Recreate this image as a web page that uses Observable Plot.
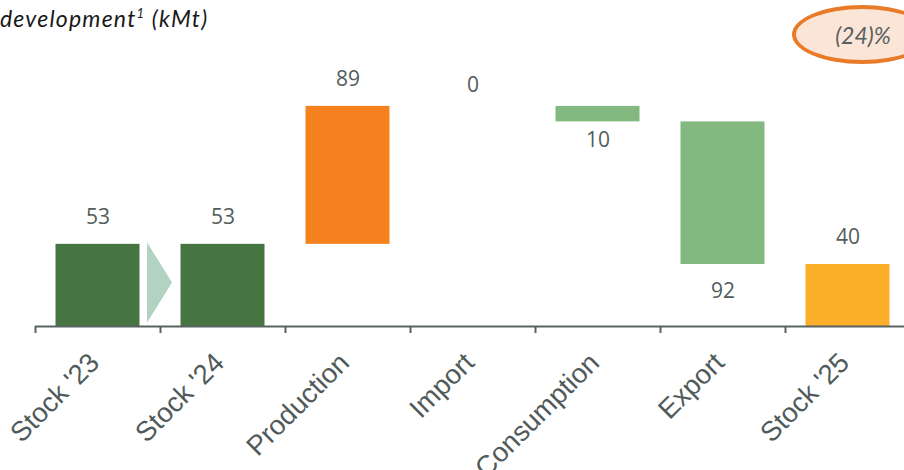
<!DOCTYPE html>
<html>
<head>
<meta charset="utf-8">
<script src="https://cdn.jsdelivr.net/npm/d3@7"></script>
<script src="https://cdn.jsdelivr.net/npm/@observablehq/plot@0.6"></script>
<style>
  html, body { margin: 0; padding: 0; background: #fff; }
  #wrap { position: relative; width: 904px; height: 470px; overflow: hidden; }
  #title { position: absolute; left: 0; top: -1px; font-family: Lato, "Open Sans", sans-serif; font-style: italic; font-weight: 400; font-size: 23px; letter-spacing: 1.2px; line-height: 28px; color: #1a1a1a; white-space: nowrap; }
  #badge { position: absolute; left: 792px; top: 5px; width: 140px; height: 59px; box-sizing: border-box; border: 4px solid #E97A28; border-radius: 50%; background: #FBE5D7; }
  #badge span { position: absolute; left: 0; width: 140px; top: 12px; text-align: center; font-family: Lato, "Open Sans", sans-serif; font-style: italic; font-size: 23px; line-height: 28px; color: #56605F; padding-right: 6px; box-sizing: border-box; }
</style>
</head>
<body>
<div id="wrap">
  <div id="chart"></div>
  <div id="title">development<sup style="font-size:13px;vertical-align:9px">1</sup> (kMt)</div>
  <div id="badge"><span>(24)%</span></div>
</div>
<script>
const categories = ["Stock '23", "Stock '24", "Production", "Import", "Consumption", "Export", "Stock '25"];
const values = [53, 53, 89, 0, -10, -92, 40];
const kinds = ["total", "total", "delta", "delta", "delta", "delta", "total"];
const colors = ["#467541", "#467541", "#F5821F", "#84B881", "#84B881", "#84B881", "#FBAE28"];
const yDomain = [0, 150];

// build waterfall rows
let running = 0;
const rows = categories.map((c, i) => {
  let y1, y2;
  if (kinds[i] === "total") { y1 = 0; y2 = values[i]; running = values[i]; }
  else { y1 = running; y2 = running + values[i]; running = y2; }
  return {i, name: c, y1, y2, top: Math.max(y1, y2), bottom: Math.min(y1, y2), label: String(Math.abs(values[i])), color: colors[i]};
});

const half = 0.336; // half bar width in category units
// chevron between the two opening stocks
const s0 = rows[0];
const arrow = [
  {x: s0.i + half + 0.06, y1: s0.y2 * 0.04, y2: s0.y2 * 1.02},
  {x: s0.i + half + 0.26, y1: s0.y2 * 0.53, y2: s0.y2 * 0.53}
];

const labelFont = {fontFamily: "'Open Sans', sans-serif", fontSize: 21, fill: "#525C5C"};

const chart = Plot.plot({
  width: 904,
  height: 470,
  marginLeft: 35,
  marginRight: -6,
  marginTop: 93.5,
  marginBottom: 144,
  x: {type: "linear", domain: [-0.5, 6.5], axis: null},
  y: {domain: yDomain, axis: null},
  marks: [
    Plot.areaY(arrow, {x: "x", y1: "y1", y2: "y2", fill: "#B2D2C2"}),
    Plot.rect(rows.filter(d => d.top !== d.bottom), {x1: d => d.i - half, x2: d => d.i + half, y1: "y1", y2: "y2", fill: "color"}),
    Plot.axisX({ticks: d3.range(-0.5, 6, 1), tickSize: 7, tickFormat: () => "", stroke: "#586262", strokeWidth: 2, label: null}),
    Plot.ruleY([0], {stroke: "#586262", strokeWidth: 2}),
    // category labels
    Plot.text(categories, {x: (d, i) => i, frameAnchor: "bottom", text: d => d, rotate: -45, textAnchor: "end", lineAnchor: "top", dx: -11, dy: 24,
      fontFamily: "'Liberation Sans', Arial, sans-serif", fontSize: 27.5, fill: "#505A5A"}),
    // value labels
    Plot.text(rows.filter(d => d.name !== "Import" && values[d.i] > 0), {x: "i", y: "top", text: "label", dy: -27, lineAnchor: "middle", ...labelFont}),
    Plot.text(rows.filter(d => d.name === "Import"), {x: "i", y: "top", text: "label", dy: -21, lineAnchor: "middle", ...labelFont}),
    Plot.text(rows.filter(d => d.name === "Consumption"), {x: "i", y: "bottom", text: "label", dy: 18, lineAnchor: "middle", ...labelFont}),
    Plot.text(rows.filter(d => d.name === "Export"), {x: "i", y: "bottom", text: "label", dy: 27, lineAnchor: "middle", ...labelFont})
  ]
});
document.getElementById("chart").appendChild(chart);
</script>
</body>
</html>
